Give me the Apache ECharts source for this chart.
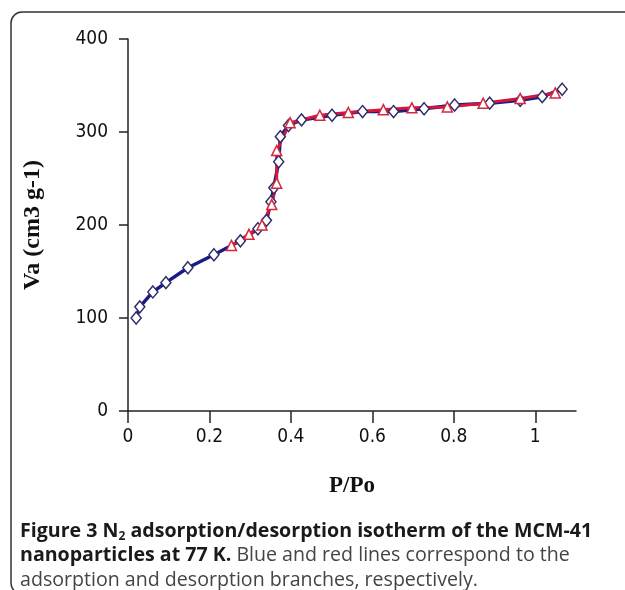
<!DOCTYPE html>
<html>
<head>
<meta charset="utf-8">
<script src="https://cdn.jsdelivr.net/npm/echarts@6/dist/echarts.min.js"></script>
<style>html,body{margin:0;padding:0;background:#fff;}#c{width:625px;height:590px;}</style>
</head>
<body>
<div id="c"></div>
<script>
// P/Po tick labels
var xTicks = [0, 0.2, 0.4, 0.6, 0.8, 1];
var yTicks = [0, 100, 200, 300, 400];
// adsorption branch (blue, diamonds): [P/Po, Va]
var adsorption = [
  [0.020, 100], [0.029, 112], [0.061, 128], [0.093, 138], [0.147, 154], [0.211, 168],
  [0.276, 183], [0.319, 196], [0.340, 205], [0.351, 225], [0.358, 240], [0.370, 268],
  [0.374, 295], [0.394, 307], [0.426, 313], [0.501, 318], [0.576, 322], [0.652, 322],
  [0.727, 325], [0.802, 329], [0.888, 331], [0.963, 334], [1.017, 338], [1.066, 346]
];
// desorption branch (red, triangles)
var desorption = [
  [1.049, 342], [0.963, 336], [0.872, 331], [0.784, 327], [0.697, 326], [0.627, 324],
  [0.541, 321], [0.471, 318], [0.398, 310], [0.365, 280], [0.365, 245], [0.353, 222],
  [0.329, 200], [0.297, 190], [0.254, 178]
];

var chart = echarts.init(document.getElementById('c'), null, {renderer: 'canvas'});
var axisColor = '#222';
var tickFont = 'Liberation Sans Narrow, DejaVu Sans Condensed, sans-serif';
var option = {
  animation: false,
  backgroundColor: '#fff',
  grid: {left: 128, right: 49, top: 39, bottom: 179},
  xAxis: {
    type: 'value', min: 0, max: 1.1, interval: 0.2,
    name: 'P/Po', nameLocation: 'middle', nameGap: 64,
    nameTextStyle: {fontFamily: 'Liberation Serif', fontWeight: 'bold', fontSize: 23, color: '#111'},
    axisLine: {show: true, onZero: false, lineStyle: {color: axisColor, width: 1.5}},
    axisTick: {show: true, length: 12, customValues: xTicks, lineStyle: {color: axisColor, width: 1.5}},
    axisLabel: {customValues: xTicks, margin: 17, fontSize: 19, color: '#111', fontFamily: tickFont,
      formatter: function (v) { return String(Math.round(v * 10) / 10); }},
    splitLine: {show: false}
  },
  yAxis: {
    type: 'value', min: 0, max: 400, interval: 100,
    name: 'Va (cm3 g-1)', nameLocation: 'middle', nameGap: 83,
    nameTextStyle: {fontFamily: 'Liberation Serif', fontWeight: 'bold', fontSize: 24, color: '#111'},
    axisLine: {show: true, lineStyle: {color: axisColor, width: 1.5}},
    axisTick: {show: true, length: 9, customValues: yTicks, lineStyle: {color: axisColor, width: 1.5}},
    axisLabel: {customValues: yTicks, margin: 20, fontSize: 19, color: '#111', fontFamily: tickFont},
    splitLine: {show: false}
  },
  series: [
    {type: 'line', data: adsorption, showSymbol: false, z: 2,
      lineStyle: {color: '#1b1b86', width: 3.5}},
    {type: 'line', data: desorption, showSymbol: false, z: 2,
      lineStyle: {color: '#d8163c', width: 3}},
    {type: 'scatter', data: adsorption, symbol: 'diamond', symbolSize: [10, 12], z: 3,
      itemStyle: {color: '#fff', borderColor: '#2e2e6a', borderWidth: 1.5, opacity: 1}},
    {type: 'scatter', data: desorption, symbol: 'triangle', symbolSize: 10, z: 3,
      itemStyle: {color: '#fff', borderColor: '#d4283f', borderWidth: 1.5, opacity: 1}}
  ],
  graphic: [
    {type: 'rect', shape: {x: 11, y: 12, width: 660, height: 582, r: 11},
      style: {fill: 'none', stroke: '#333', lineWidth: 1.5}, z: 0, silent: true},
    {type: 'text', left: 20, top: 519, z: 10,
      style: {text: '{b|Figure 3 N}{s|2}{b| adsorption/desorption isotherm of the MCM-41}',
        rich: {
          b: {fontFamily: 'Open Sans', fontWeight: 'bold', fontSize: 19.6, fill: '#1a1a1a', lineHeight: 24},
          s: {fontFamily: 'Open Sans', fontWeight: 'bold', fontSize: 12, fill: '#1a1a1a', padding: [12, 0, 0, 0], lineHeight: 24}
        }}},
    {type: 'text', left: 20, top: 545, z: 10,
      style: {text: '{b|nanoparticles at 77 K.}{n| Blue and red lines correspond to the}',
        rich: {
          b: {fontFamily: 'Open Sans', fontWeight: 'bold', fontSize: 19.6, fill: '#1a1a1a', lineHeight: 24},
          n: {fontFamily: 'Open Sans', fontSize: 19.6, fill: '#444', lineHeight: 24}
        }}},
    {type: 'text', left: 20, top: 570, z: 10,
      style: {text: '{n|adsorption and desorption branches, respectively.}',
        rich: {n: {fontFamily: 'Open Sans', fontSize: 19.6, fill: '#444', lineHeight: 24}}}}
  ]
};
chart.setOption(option);
</script>
</body>
</html>
